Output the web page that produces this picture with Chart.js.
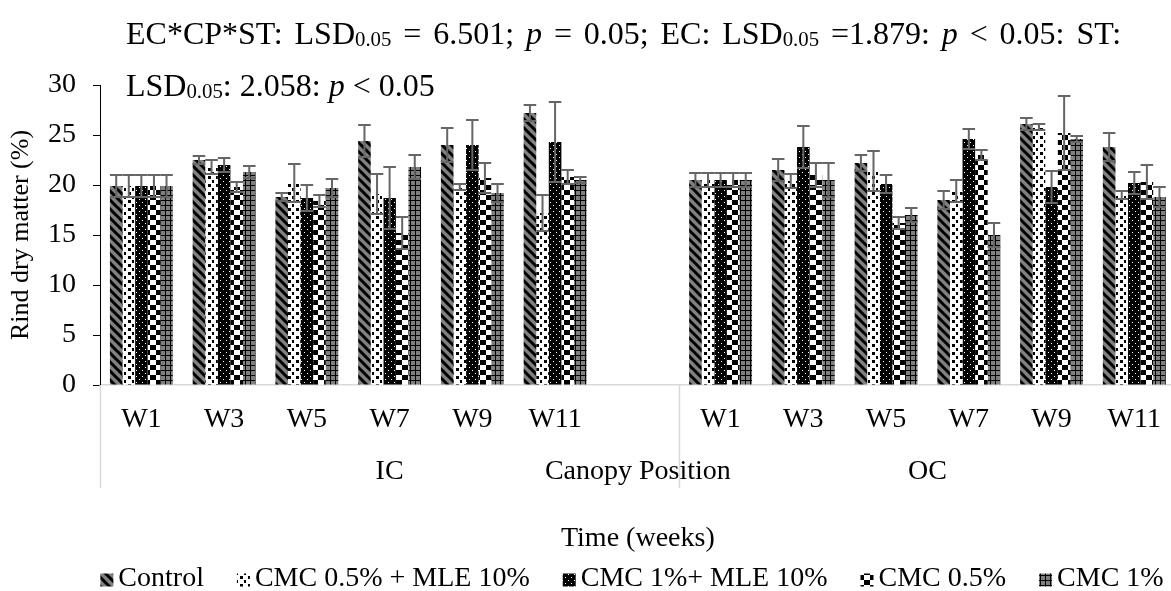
<!DOCTYPE html>
<html>
<head>
<meta charset="utf-8">
<title>Rind dry matter</title>
<script src="https://cdn.jsdelivr.net/npm/chart.js@4.4.0/dist/chart.umd.min.js"></script>
<style>
  html, body { margin: 0; padding: 0; background: #fff; overflow: hidden; }
  #wrap { position: relative; width: 1171px; height: 591px; overflow: hidden; }
  #box { position: absolute; left: 0; top: 0; width: 1179px; height: 591px; }
  .note { position: absolute; left: 126px; font-family: "Liberation Serif", "Times New Roman", serif;
          font-size: 32px; line-height: 1; color: #000; }
  .note sub { font-size: 0.65em; vertical-align: -0.12em; line-height: 0; }
  #note1 { top: 17px; width: 995px; text-align: justify; text-align-last: justify; }
  #note2 { top: 69px; white-space: nowrap; }
</style>
</head>
<body>
<div id="wrap">
  <div id="box"><canvas id="rindChart"></canvas></div>
  <div class="note" id="note1">EC*CP*ST: LSD<sub>0.05</sub> = 6.501; <i>p</i> = 0.05; EC: LSD<sub>0.05</sub> =1.879: <i>p</i> &lt; 0.05: ST:</div>
  <div class="note" id="note2">LSD<sub>0.05</sub>: 2.058: <i>p</i> &lt; 0.05</div>
</div>
<script>
// weeks per canopy position, with an empty slot between IC and OC
const weeks = ['W1', 'W3', 'W5', 'W7', 'W9', 'W11'];
const categories = [...weeks, '', ...weeks];

const groupLabels = ['IC', 'Canopy Position', 'OC'];
const groupFirst = [0, 6, 7];
const groupLast = [6, 6, 12];

const seriesNames = ['Control', 'CMC 0.5% + MLE 10%', 'CMC 1%+ MLE 10%', 'CMC 0.5%', 'CMC 1%'];

// rind dry matter (%)
const control   = [19.9, 22.5, 18.8, 24.4, 24.0, 27.2, null, 20.5, 21.5, 22.2, 18.5, 26.1, 23.8];
const cmc05mle  = [19.9, 21.8, 20.2, 19.1, 19.8, 17.2, null, 20.5, 20.4, 21.4, 19.4, 25.8, 19.0];
const cmc1mle   = [19.9, 22.0, 18.7, 18.7, 24.0, 24.3, null, 20.5, 23.8, 20.1, 24.6, 19.8, 20.2];
const cmc05     = [19.9, 19.8, 18.4, 15.2, 20.7, 20.8, null, 20.5, 21.0, 16.2, 23.0, 25.2, 20.3];
const cmc1      = [19.9, 21.3, 19.7, 21.8, 19.2, 20.5, null, 20.5, 20.5, 17.0, 15.0, 24.6, 18.8];

// error bar half-lengths
const controlErr  = [1.1, 0.4, 0.4, 1.6, 1.7, 0.8, null, 0.7, 1.1, 0.8, 0.9, 0.6, 1.4];
const cmc05mleErr = [1.1, 0.7, 1.9, 2.0, 0.3, 1.8, null, 0.7, 0.7, 2.0, 1.1, 0.3, 0.4];
const cmc1mleErr  = [1.1, 0.7, 1.3, 3.1, 2.5, 4.0, null, 0.7, 2.1, 0.9, 1.0, 1.6, 1.1];
const cmc05Err    = [1.1, 0.5, 0.6, 1.6, 1.5, 0.7, null, 0.7, 1.2, 0.6, 0.5, 3.7, 1.7];
const cmc1Err     = [1.1, 0.6, 0.9, 1.2, 0.9, 0.3, null, 0.7, 1.7, 0.7, 1.2, 0.3, 1.0];

const values = [control, cmc05mle, cmc1mle, cmc05, cmc1];
const errors = [controlErr, cmc05mleErr, cmc1mleErr, cmc05Err, cmc1Err];

const serif = '"Liberation Serif", "Times New Roman", serif';
const font = { family: serif, size: 28 };

function makePattern(w, h, paint) {
    const c = document.createElement('canvas');
    c.width = w;
    c.height = h;
    const g = c.getContext('2d');
    paint(g, w, h);
    return g.createPattern(c, 'repeat');
}

// grey with black downward diagonals
const hatch = makePattern(9, 9, (g, w) => {
    g.fillStyle = '#808080';
    g.fillRect(0, 0, w, w);
    g.strokeStyle = '#000';
    g.lineWidth = 3;
    g.beginPath();
    for (const k of [-w, 0, w]) {
        g.moveTo(k - 1, -1);
        g.lineTo(k + w + 1, w + 1);
    }
    g.stroke();
});
// white with black confetti
const confetti = makePattern(8, 8, (g, w) => {
    g.fillStyle = '#fff';
    g.fillRect(0, 0, w, w);
    g.fillStyle = '#000';
    g.fillRect(0, 0, 3, 3);
    g.fillRect(4, 4, 2, 3);
});
// black with white dots
const dots = makePattern(6, 6, (g, w) => {
    g.fillStyle = '#000';
    g.fillRect(0, 0, w, w);
    g.fillStyle = '#fff';
    g.fillRect(1, 1, 1, 1);
    g.fillRect(4, 4, 1, 1);
});
// large black and white checks
const checks = makePattern(12, 10, (g, w, h) => {
    g.fillStyle = '#fff';
    g.fillRect(0, 0, w, h);
    g.fillStyle = '#000';
    g.fillRect(0, 0, 6, 5);
    g.fillRect(6, 5, 6, 5);
});
// grey with a black grid
const grid = makePattern(5, 5, (g, w) => {
    g.fillStyle = '#7f7f7f';
    g.fillRect(0, 0, w, w);
    g.fillStyle = '#000';
    g.fillRect(0, 0, w, 1);
    g.fillRect(0, 0, 1, w);
});
const fills = [hatch, confetti, dots, checks, grid];

const errorBars = {
    id: 'errorBars',
    afterDatasetsDraw(chart) {
        const { ctx } = chart;
        const y = chart.scales.y;
        ctx.save();
        ctx.strokeStyle = '#666';
        ctx.lineWidth = 2;
        chart.data.datasets.forEach((ds, i) => {
            chart.getDatasetMeta(i).data.forEach((bar, j) => {
                const v = ds.data[j];
                const e = errors[i][j];
                if (v == null || e == null) return;
                const top = y.getPixelForValue(v + e);
                const bot = y.getPixelForValue(v - e);
                const half = bar.width / 2;
                ctx.beginPath();
                ctx.moveTo(bar.x, top);
                ctx.lineTo(bar.x, bot);
                ctx.moveTo(bar.x - half, top);
                ctx.lineTo(bar.x + half, top);
                ctx.moveTo(bar.x - half, bot);
                ctx.lineTo(bar.x + half, bot);
                ctx.stroke();
            });
        });
        ctx.restore();
    }
};

// second row of category labels, separators and the legend
const groupAxis = {
    id: 'groupAxis',
    afterDraw(chart) {
        const { ctx, chartArea } = chart;
        const x = chart.scales.x;
        const slot = x.getPixelForValue(1) - x.getPixelForValue(0);
        const left = i => x.getPixelForValue(i) - slot / 2;
        ctx.save();
        ctx.strokeStyle = '#d9d9d9';
        ctx.lineWidth = 1.5;
        for (const i of [0, 7, 13]) {
            const px = Math.round(left(i)) + 0.5;
            ctx.beginPath();
            ctx.moveTo(px, chartArea.bottom);
            ctx.lineTo(px, chartArea.bottom + 103);
            ctx.stroke();
        }
        ctx.fillStyle = '#000';
        ctx.font = `28px ${serif}`;
        ctx.textAlign = 'center';
        ctx.textBaseline = 'middle';
        groupLabels.forEach((label, k) => {
            const cx = (left(groupFirst[k]) + left(groupLast[k] + 1)) / 2;
            ctx.fillText(label, cx, chartArea.bottom + 87);
        });

        // legend
        const box = 13, gapIn = 5, gapOut = 33, ly = 579;
        const widths = seriesNames.map(n => ctx.measureText(n).width);
        const total = widths.reduce((a, b) => a + b, 0) + seriesNames.length * (box + gapIn) + (seriesNames.length - 1) * gapOut;
        let cx = 632 - total / 2;
        ctx.textAlign = 'left';
        seriesNames.forEach((name, i) => {
            ctx.fillStyle = fills[i];
            ctx.fillRect(cx, ly - box / 2 + 1, box, box);
            ctx.fillStyle = '#000';
            ctx.fillText(name, cx + box + gapIn, ly);
            cx += box + gapIn + widths[i] + gapOut;
        });
        ctx.restore();
    }
};

new Chart(document.getElementById('rindChart'), {
    type: 'bar',
    data: {
        labels: categories,
        datasets: seriesNames.map((name, i) => ({
            label: name,
            data: values[i],
            backgroundColor: fills[i],
            borderWidth: 0,
            categoryPercentage: 0.76,
            barPercentage: 1.0
        }))
    },
    options: {
        responsive: true,
        maintainAspectRatio: false,
        animation: false,
        layout: { padding: { top: 85, bottom: 36, left: 0, right: 0 } },
        plugins: {
            legend: { display: false },
            tooltip: { enabled: false }
        },
        scales: {
            x: {
                grid: { display: true, drawOnChartArea: false, drawTicks: false },
                border: { display: true, color: '#d9d9d9', width: 1.5 },
                ticks: { color: '#000', font: font, padding: 18, autoSkip: false, maxRotation: 0 },
                title: { display: true, text: 'Time (weeks)', color: '#000', font: font, padding: { top: 0, bottom: 0 } },
                afterFit: s => { s.height = 170; }
            },
            y: {
                min: 0,
                max: 30,
                ticks: { stepSize: 5, color: '#000', font: font, padding: 17 },
                grid: { display: true, drawOnChartArea: false, drawTicks: true, tickLength: 7, color: '#000' },
                border: { display: true, color: '#000', width: 1 },
                title: { display: true, text: 'Rind dry matter (%)', color: '#000', font: { family: serif, size: 26 }, padding: { top: 6, bottom: 0 } },
                afterFit: s => { s.width = 100; }
            }
        }
    },
    plugins: [errorBars, groupAxis]
});
</script>
</body>
</html>
